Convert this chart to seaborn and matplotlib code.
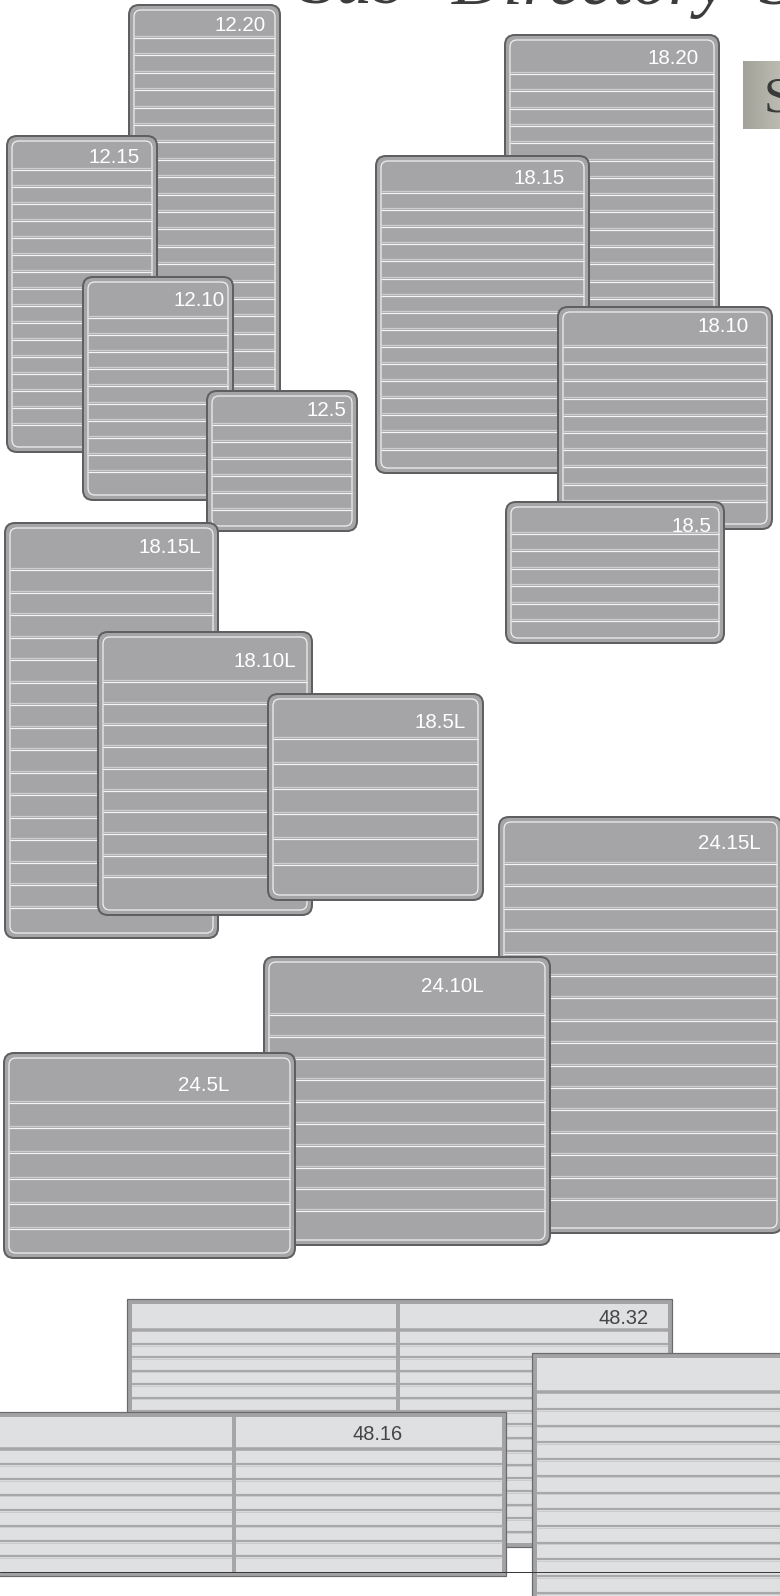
import numpy as np
import pandas as pd
import matplotlib.pyplot as plt
import seaborn as sns
from matplotlib.patches import FancyBboxPatch, Rectangle
from matplotlib.colors import LinearSegmentedColormap

# sign models (rounded signs) and how many insert lines each shows
sign_names = ["12.20", "12.15", "12.10", "12.5",
              "18.20", "18.15", "18.10", "18.5",
              "18.15L", "18.10L", "18.5L",
              "24.15L", "24.10L", "24.5L"]
sign_lines = [21, 16, 10, 6, 19, 16, 10, 6, 16, 10, 6, 16, 10, 6]

# large two column signs
wide_names = ["48.32", "48.16", ""]
wide_lines = [15, 7, 14]

title_words = ["Sub", "Directory", "Signs"]

# layout (pixels, y going down)
sign_box = [(129, 5, 280, 410), (7, 136, 157, 452), (83, 277, 233, 500), (207, 391, 357, 531),
            (505, 35, 719, 400), (376, 156, 589, 473), (558, 307, 772, 529), (506, 502, 724, 643),
            (5, 523, 218, 938), (98, 632, 312, 915), (268, 694, 483, 900),
            (499, 817, 782, 1233), (264, 957, 550, 1245), (4, 1053, 295, 1258)]
sign_first = [36, 168, 316, 423, 72, 191, 345, 532, 568, 680, 737, 862, 1013, 1101]
sign_gap = [17.4, 17.0, 17.1, 17.0, 17.3, 17.1, 17.2, 17.4, 22.5, 21.7, 25.1, 22.4, 21.8, 25.2]
label_inset = [14, 17, 8, 11, 20, 24, 23, 13, 17, 16, 17, 21, 66, 66]
label_drop = [3, 3.5, 2.5, 1.5, 3, 3, -1, 8, 0, 4, 5.5, 2.5, 0, 7]

wide_box = [(127, 1299, 672, 1547), (-39, 1412, 506, 1576), (532, 1353, 1077, 1700)]
wide_header = [1330, 1449, 1392]
wide_first = [1344, 1464, 1409]
wide_gap = [13.4, 15.4, 16.7]
wide_divider = [398, 234, 805]
wide_label_right = [649, 403, 1000]

title_x = [300, 452, 758]

sns.set_theme(style="white")
plt.rcParams['font.family'] = ['Liberation Sans', 'DejaVu Sans']

fig = plt.figure(figsize=(7.8, 15.96), dpi=100)
ax = fig.add_axes([0, 0, 1, 1])
ax.axis('off')

PX = 72 / 100  # points per pixel

body = "#a5a5a7"
edge = "#5f5f61"

for i, name in enumerate(sign_names):
    x0, y0, x1, y1 = sign_box[i]
    z = 10 + i * 5
    ax.add_patch(FancyBboxPatch((x0, y0), x1 - x0, y1 - y0,
                                boxstyle="round,pad=0,rounding_size=10",
                                fc=body, ec=edge, lw=2.0 * PX, zorder=z))
    ax.add_patch(FancyBboxPatch((x0 + 5, y0 + 5), x1 - x0 - 10, y1 - y0 - 10,
                                boxstyle="round,pad=0,rounding_size=7",
                                fc="none", ec="#ededed", lw=1.3 * PX, zorder=z + 1))
    ys = sign_first[i] + np.arange(sign_lines[i]) * sign_gap[i]
    ys = ys[ys < y1 - 8]
    ax.hlines(ys, x0 + 5, x1 - 5, color="#cdcdcf", lw=1.3 * PX, zorder=z + 2)
    ax.hlines(ys + 2, x0 + 5, x1 - 5, color="#f4f4f4", lw=1.2 * PX, zorder=z + 2)
    mid = (y0 + sign_first[i]) / 2 + label_drop[i]
    ax.text(x1 - label_inset[i], mid + 7.4, name, ha="right", va="baseline",
            color="white", fontsize=20.5 * PX, zorder=z + 3)

for i, name in enumerate(wide_names):
    x0, y0, x1, y1 = wide_box[i]
    z = 200 + i * 5
    ax.add_patch(Rectangle((x0, y0), x1 - x0, y1 - y0, fc="#a3a3a5", ec="#6a6a6c",
                           lw=1.2 * PX, zorder=z))
    ax.add_patch(Rectangle((x0 + 4.5, y0 + 4.5), x1 - x0 - 9, y1 - y0 - 9,
                           fc="#dfe0e2", ec="none", zorder=z + 1))
    ax.hlines(wide_header[i], x0 + 4.5, x1 - 4.5, color="#a6a6a8", lw=3.5 * PX, zorder=z + 2)
    ys = wide_first[i] + np.arange(wide_lines[i]) * wide_gap[i]
    ax.hlines(ys, x0 + 4.5, x1 - 4.5, color="#a8a8aa", lw=2.2 * PX, zorder=z + 2)
    ax.hlines(ys + 1.6, x0 + 4.5, x1 - 4.5, color="#c9c9cb", lw=0.9 * PX, zorder=z + 2)
    ax.vlines(wide_divider[i], y0 + 4.5, y1 - 4.5, color="#a6a6a8", lw=4 * PX, zorder=z + 2)
    mid = (y0 + 4.5 + wide_header[i]) / 2
    ax.text(wide_label_right[i], mid + 7.4, name, ha="right", va="baseline",
            color="#454545", fontsize=20 * PX, zorder=z + 3)

# thin rule across the bottom
ax.plot([0, 780], [1572, 1572], color="#3a3a3a", lw=1.0 * PX, zorder=400)

# title, mostly cut off at the top
for word, wx in zip(title_words, title_x):
    ax.text(wx, 4, word, ha="left", va="baseline", color="#3c3c3c",
            fontsize=72 * PX, family=["Liberation Serif", "DejaVu Serif"], style="italic",
            zorder=5)

# grey tab with a big S at the right
grad = np.linspace(0, 1, 60)[None, :]
cmap = LinearSegmentedColormap.from_list("tab", ["#a2a298", "#c2c2ba"])
ax.imshow(grad, extent=(743, 790, 129, 61), cmap=cmap, aspect="auto", zorder=3)
ax.text(764, 111, "S", ha="left", va="baseline", color="#3a3a3a",
        fontsize=50 * PX, family=["Liberation Serif", "DejaVu Serif"], zorder=4)

ax.set_xlim(0, 780)
ax.set_ylim(1596, 0)

fig.savefig("out.png", dpi=100, facecolor="white")
